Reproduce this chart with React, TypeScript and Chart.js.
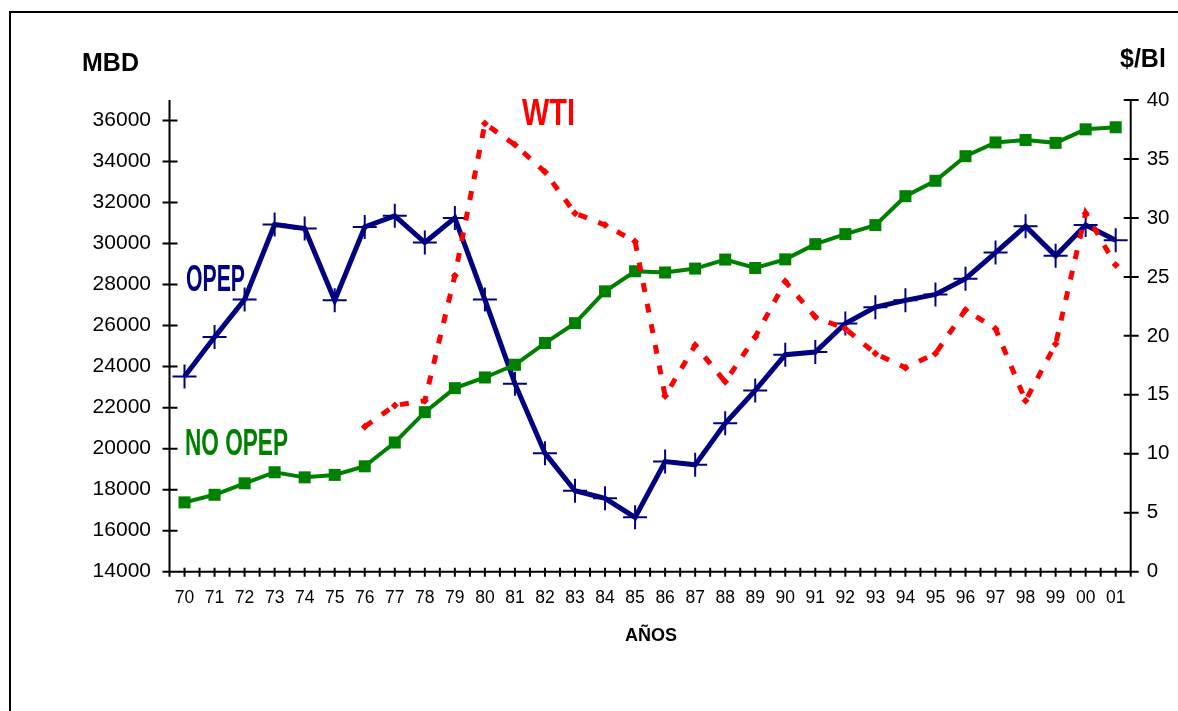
import React, { useEffect, useRef } from "react";
import { Chart, registerables } from "chart.js";

Chart.register(...registerables);

const years = ["70","71","72","73","74","75","76","77","78","79","80","81","82","83","84","85","86","87","88","89","90","91","92","93","94","95","96","97","98","99","00","01"];
const opep = [23520, 25440, 27270, 30930, 30730, 27230, 30810, 31350, 30050, 31250, 27270, 23170, 19780, 17950, 17580, 16650, 19370, 19210, 21240, 22840, 24580, 24710, 26100, 26900, 27230, 27520, 28290, 29560, 30850, 29400, 30900, 30160];
const noOpep = [17380, 17750, 18310, 18850, 18600, 18720, 19140, 20300, 21780, 22950, 23470, 24090, 25150, 26120, 27670, 28650, 28590, 28780, 29220, 28810, 29230, 29970, 30460, 30900, 32310, 33060, 34260, 34930, 35050, 34910, 35570, 35670];
const wti = [null, null, null, null, null, null, 12.3, 14.1, 14.5, 25.1, 38.0, 36.2, 33.9, 30.4, 29.4, 28.0, 14.9, 19.2, 16.1, 19.9, 24.6, 21.6, 20.6, 18.5, 17.3, 18.5, 22.2, 20.6, 14.5, 19.3, 30.4, 26.0];

const leftTicks = [14000, 16000, 18000, 20000, 22000, 24000, 26000, 28000, 30000, 32000, 34000, 36000];
const rightTicks = [0, 5, 10, 15, 20, 25, 30, 35, 40];
const leftMin = 14000;
const leftMax = 37000;
const rightMin = 0;
const rightMax = 40;

const FONT = '"Liberation Sans", Arial, Helvetica, sans-serif';
const NAVY = "#000080";
const GREEN = "#008000";
const RED = "#FF0000";

function condensedText(ctx: CanvasRenderingContext2D, text: string, left: number, baseline: number, width: number, size: number, color: string) {
  ctx.save();
  ctx.font = `bold ${size}px ${FONT}`;
  const w = ctx.measureText(text).width;
  ctx.translate(left, baseline);
  ctx.scale(width / w, 1);
  ctx.fillStyle = color;
  ctx.textAlign = "left";
  ctx.textBaseline = "alphabetic";
  ctx.fillText(text, 0, 0);
  ctx.restore();
}

const axesPlugin = {
  id: "excelAxes",
  beforeDatasetsDraw(chart: any) {
    const { ctx, chartArea } = chart;
    const { left, right, top, bottom } = chartArea;
    const xs = chart.scales.x;
    const yl = chart.scales.yL;
    const yr = chart.scales.yR;
    ctx.save();
    ctx.strokeStyle = "#000";
    ctx.lineWidth = 2;
    ctx.beginPath();
    ctx.moveTo(left, top);
    ctx.lineTo(left, bottom);
    ctx.moveTo(right, top);
    ctx.lineTo(right, bottom);
    ctx.moveTo(left, bottom);
    ctx.lineTo(right, bottom);
    yl.ticks.forEach((t: any) => {
      const y = yl.getPixelForValue(t.value);
      ctx.moveTo(left - 7, y);
      ctx.lineTo(left + 8, y);
    });
    yr.ticks.forEach((t: any) => {
      const y = yr.getPixelForValue(t.value);
      ctx.moveTo(right - 7, y);
      ctx.lineTo(right + 8, y);
    });
    const half = (xs.getPixelForValue(1) - xs.getPixelForValue(0)) / 2;
    for (let i = 0; i < years.length; i++) {
      const c = xs.getPixelForValue(i);
      [c - half, c, c + half].forEach((x) => {
        ctx.moveTo(x, bottom - 4);
        ctx.lineTo(x, bottom + 5);
      });
    }
    ctx.stroke();
    ctx.restore();
  },
  afterDraw(chart: any) {
    const { ctx } = chart;
    ctx.save();
    ctx.fillStyle = "#000";
    ctx.font = `bold 25px ${FONT}`;
    ctx.textAlign = "left";
    ctx.textBaseline = "alphabetic";
    ctx.fillText("MBD", 82, 71);
    ctx.fillText("$/Bl", 1120, 67);
    ctx.font = `bold 18px ${FONT}`;
    ctx.textAlign = "center";
    ctx.fillText("AÑOS", 651, 641);
    ctx.restore();
    condensedText(ctx, "OPEP", 186, 291, 59, 36, NAVY);
    condensedText(ctx, "NO OPEP", 185, 455, 103, 36, GREEN);
    condensedText(ctx, "WTI", 522, 125, 53, 36, RED);
  },
};

export default function App() {
  const ref = useRef<HTMLCanvasElement>(null);
  useEffect(() => {
    if (!ref.current) return;
    const chart = new Chart(ref.current, {
      type: "line",
      data: {
        labels: years,
        datasets: [
          {
            label: "WTI",
            data: wti as any,
            yAxisID: "yR",
            order: 0,
            borderColor: RED,
            borderWidth: 5,
            borderDash: [9, 12],
            backgroundColor: RED,
            pointStyle: "rectRot",
            pointRadius: 4,
            pointBorderWidth: 0,
            pointBackgroundColor: RED,
            spanGaps: false,
            tension: 0,
            clip: false as any,
          },
          {
            label: "NO OPEP",
            data: noOpep,
            yAxisID: "yL",
            order: 1,
            borderColor: GREEN,
            borderWidth: 4,
            backgroundColor: GREEN,
            pointStyle: "rect",
            pointRadius: 8.5,
            pointBorderWidth: 0,
            pointBackgroundColor: GREEN,
            tension: 0,
            clip: false as any,
          },
          {
            label: "OPEP",
            data: opep,
            yAxisID: "yL",
            order: 2,
            borderColor: NAVY,
            borderWidth: 5,
            backgroundColor: NAVY,
            pointStyle: "cross",
            pointRadius: 12,
            pointBorderWidth: 2,
            pointBorderColor: NAVY,
            tension: 0,
            clip: false as any,
          },
        ],
      },
      options: {
        responsive: false,
        animation: false,
        events: [],
        layout: { padding: { top: 100, left: 0, right: 0, bottom: 0 } },
        plugins: {
          legend: { display: false },
          tooltip: { enabled: false },
          title: { display: false },
        },
        scales: {
          x: {
            type: "category",
            offset: true,
            grid: { display: false, drawTicks: false },
            border: { display: false },
            ticks: {
              color: "#000",
              font: { family: FONT, size: 17.5 },
              padding: 16,
              maxRotation: 0,
              minRotation: 0,
              autoSkip: false,
            },
            afterFit: (s: any) => { s.height = 139.3; },
          },
          yL: {
            type: "linear",
            position: "left",
            min: leftMin,
            max: leftMax,
            grid: { display: false, drawTicks: false },
            border: { display: false },
            ticks: {
              color: "#000",
              font: { family: FONT, size: 21 },
              padding: 18.5,
              callback: (v: any) => String(v),
            },
            afterBuildTicks: (s: any) => {
              s.ticks = leftTicks.map((v) => ({ value: v }));
            },
            afterFit: (s: any) => { s.width = 169.5; },
          },
          yR: {
            type: "linear",
            position: "right",
            min: rightMin,
            max: rightMax,
            grid: { display: false, drawTicks: false },
            border: { display: false },
            ticks: {
              color: "#000",
              font: { family: FONT, size: 20.5 },
              padding: 16,
              callback: (v: any) => String(v),
            },
            afterBuildTicks: (s: any) => {
              s.ticks = rightTicks.map((v) => ({ value: v }));
            },
            afterFit: (s: any) => { s.width = 47.3; },
          },
        },
      },
      plugins: [axesPlugin],
    });
    return () => chart.destroy();
  }, []);

  return (
    <div style={{ position: "fixed", left: 0, top: 0, width: 1178, height: 711, overflow: "hidden", background: "#fff" }}>
      <div
        style={{
          position: "absolute",
          left: 9,
          top: 11,
          width: 1400,
          height: 1000,
          border: "2px solid #000",
          boxSizing: "border-box",
        }}
      />
      <canvas ref={ref} width={1178} height={711} style={{ position: "absolute", left: 0, top: 0, width: 1178, height: 711 }} />
    </div>
  );
}
